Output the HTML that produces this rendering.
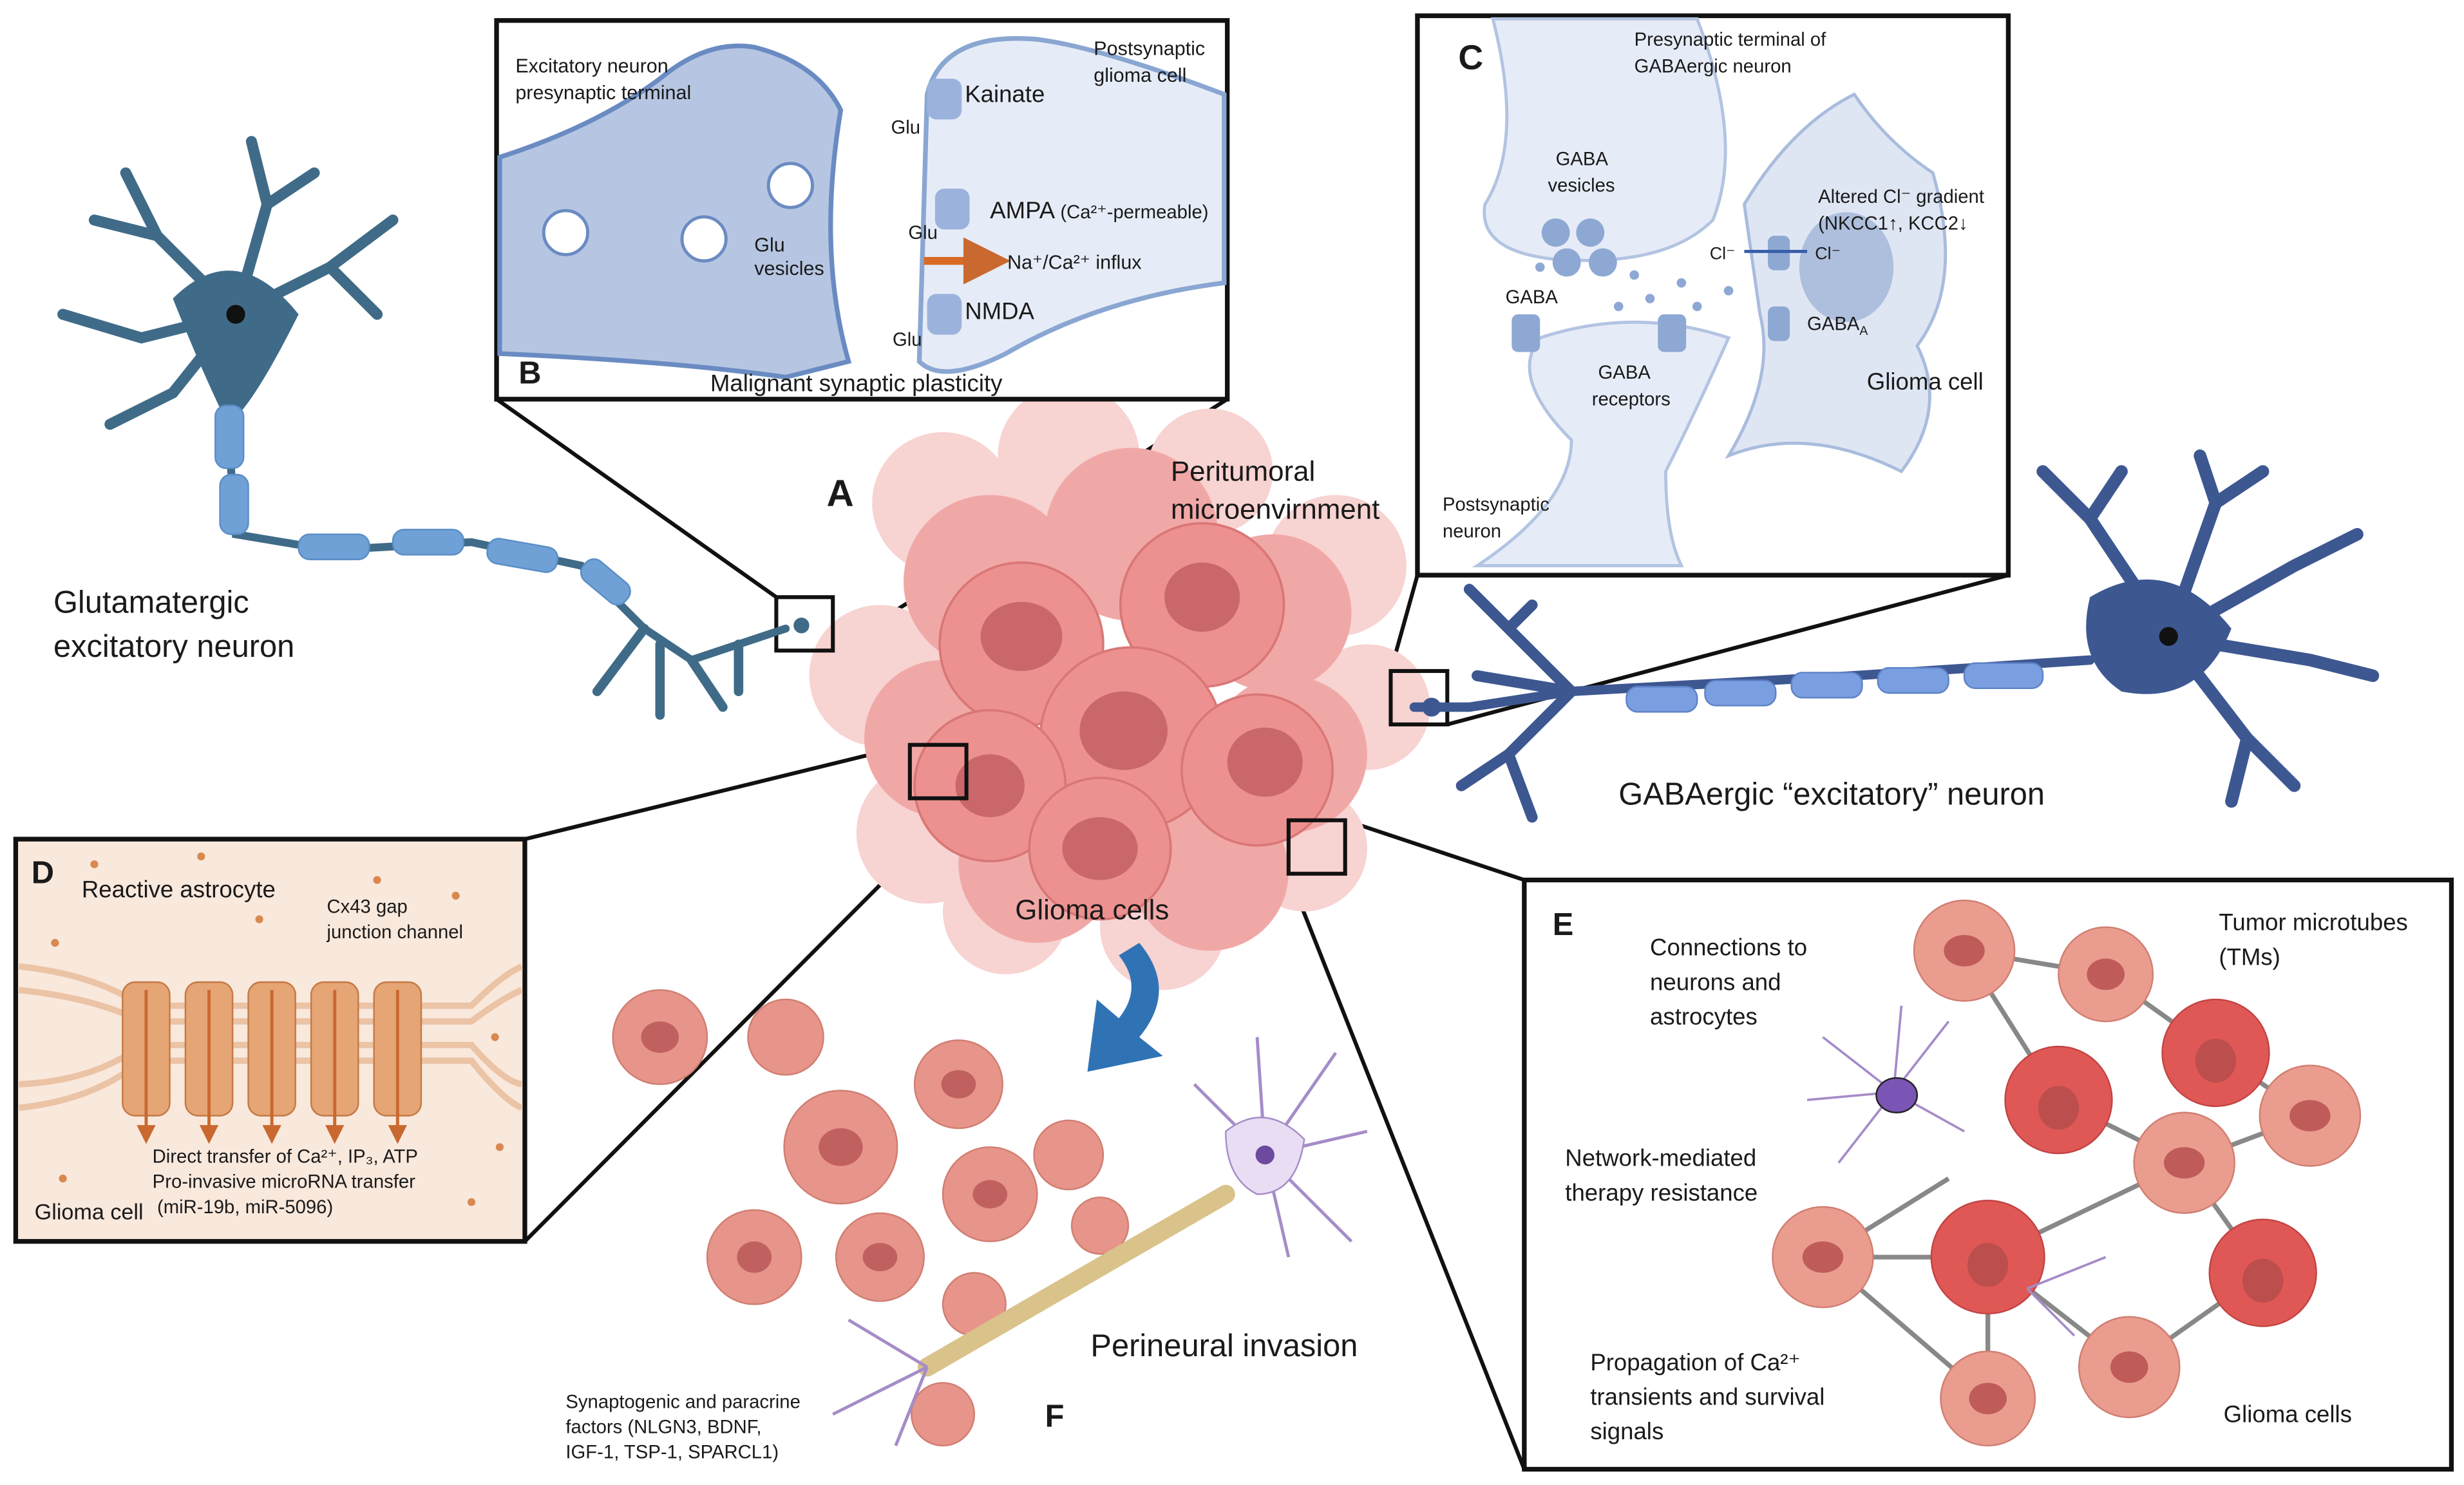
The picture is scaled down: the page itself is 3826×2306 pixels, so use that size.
<!DOCTYPE html>
<html><head><meta charset="utf-8">
<style>
html,body{margin:0;padding:0;background:#fff;}
svg{display:block;}
text{font-family:"Liberation Sans",sans-serif;fill:#1a1a1a;}
</style></head>
<body>
<svg width="3826" height="2306" viewBox="0 0 1568 945" xmlns="http://www.w3.org/2000/svg">
<defs>
<marker id="ar" markerWidth="6" markerHeight="6" refX="3" refY="3" orient="auto"><path d="M0,0L6,3L0,6z" fill="#c9682f"/></marker>
</defs>

<!-- connector lines -->
<g stroke="#111" stroke-width="2.5" fill="none">
<line x1="316" y1="254" x2="494" y2="380"/>
<line x1="781" y1="254" x2="530" y2="414"/>
<line x1="902" y1="366" x2="885" y2="427"/>
<line x1="1278" y1="366" x2="921" y2="461"/>
<line x1="334" y1="534" x2="579" y2="474"/>
<line x1="334" y1="790" x2="615" y2="508"/>
<line x1="856" y1="522" x2="970" y2="560"/>
<line x1="820" y1="556" x2="970" y2="935"/>
</g>

<!-- tumor -->
<g fill="#f7d3d1">
<circle cx="600" cy="320" r="45"/><circle cx="680" cy="290" r="45"/><circle cx="770" cy="300" r="40"/><circle cx="850" cy="360" r="45"/><circle cx="870" cy="450" r="40"/><circle cx="560" cy="430" r="45"/><circle cx="590" cy="530" r="45"/><circle cx="640" cy="580" r="40"/><circle cx="740" cy="590" r="40"/><circle cx="830" cy="540" r="40"/>
</g>
<g fill="#f0a8a6">
<circle cx="630" cy="370" r="55"/><circle cx="720" cy="340" r="55"/><circle cx="810" cy="390" r="50"/><circle cx="600" cy="470" r="50"/><circle cx="820" cy="480" r="50"/><circle cx="660" cy="550" r="50"/><circle cx="770" cy="555" r="50"/>
</g>
<g fill="#ec918f" stroke="#d97776" stroke-width="1.5">
<circle cx="650" cy="410" r="52"/><circle cx="765" cy="385" r="52"/><circle cx="720" cy="470" r="58"/><circle cx="630" cy="500" r="48"/><circle cx="800" cy="490" r="48"/><circle cx="700" cy="540" r="45"/>
</g>
<g fill="#c9676a">
<ellipse cx="650" cy="405" rx="26" ry="22"/><ellipse cx="765" cy="380" rx="24" ry="22"/>
<ellipse cx="715" cy="465" rx="28" ry="25"/><ellipse cx="630" cy="500" rx="22" ry="20"/>
<ellipse cx="805" cy="485" rx="24" ry="22"/><ellipse cx="700" cy="540" rx="24" ry="20"/>
</g>

<!-- small squares -->
<g stroke="#111" stroke-width="2.5" fill="none">
<rect x="494" y="380" width="36" height="34"/>
<rect x="885" y="427" width="36" height="34"/>
<rect x="579" y="474" width="36" height="34"/>
<rect x="820" y="522" width="36" height="34"/>
</g>

<!-- left neuron -->
<g stroke="#3f6b88" stroke-linecap="round" fill="none">
<path d="M150 200 L100 150 L60 140 M100 150 L80 110 M150 200 L90 215 L40 200 M150 200 L110 250 L70 270 M150 200 L170 130 L160 90 M170 130 L200 110 M150 200 L210 170 L250 140 M210 170 L240 200" stroke-width="7"/>
<path d="M150 200 L145 270 L150 340 L210 350 L300 345 L370 360 L410 400 L440 420 L500 400" stroke-width="5"/>
<path d="M410 400 L380 440 M420 410 L420 455 M440 420 L460 450 M470 410 L470 440" stroke-width="6"/>
</g>
<path d="M110 190 Q150 150 190 200 Q160 260 145 270 Q130 240 110 190z" fill="#3f6b88"/>
<circle cx="150" cy="200" r="6" fill="#111"/>
<g fill="#6fa0d6" stroke="#5b8ec6" stroke-width="1">
<rect x="137" y="258" width="18" height="40" rx="7"/><rect x="140" y="302" width="18" height="38" rx="7"/>
<rect x="190" y="340" width="45" height="16" rx="7"/><rect x="250" y="337" width="45" height="16" rx="7"/>
<rect x="310" y="345" width="45" height="16" rx="7" transform="rotate(10 330 353)"/><rect x="368" y="362" width="35" height="16" rx="7" transform="rotate(40 385 370)"/>
</g>
<circle cx="510" cy="398" r="5" fill="#3f6b88"/>

<!-- right neuron -->
<g stroke="#3d5791" stroke-linecap="round" fill="none">
<path d="M1380 405 L1330 330 L1300 300 M1330 330 L1350 300 M1380 405 L1410 320 L1400 290 M1410 320 L1440 300 M1380 405 L1460 360 L1500 340 M1380 405 L1470 420 L1510 430 M1380 405 L1430 470 L1460 500 M1430 470 L1420 510" stroke-width="8"/>
<path d="M1330 420 L1180 430 L1000 440 L935 450 L900 450" stroke-width="6"/>
<path d="M1000 440 L960 400 L935 375 M960 400 L975 385 M1000 440 L960 480 L930 500 M960 480 L975 520 M1000 440 L940 430" stroke-width="7"/>
</g>
<path d="M1330 380 Q1380 350 1420 400 Q1400 450 1350 440 Q1320 420 1330 380z" fill="#3d5791"/>
<circle cx="1380" cy="405" r="6" fill="#111"/>
<g fill="#7a9fe0" stroke="#5e82c8" stroke-width="1">
<rect x="1035" y="437" width="45" height="16" rx="7"/><rect x="1085" y="433" width="45" height="16" rx="7"/>
<rect x="1140" y="428" width="45" height="16" rx="7"/><rect x="1195" y="425" width="45" height="16" rx="7"/><rect x="1250" y="422" width="50" height="16" rx="7"/>
</g>
<circle cx="911" cy="450" r="6" fill="#3d5791"/>

<!-- Box B -->
<rect x="316" y="13" width="465" height="241" fill="#fff" stroke="#111" stroke-width="3"/>
<path d="M318 100 Q380 80 420 50 Q450 25 480 30 Q520 40 535 70 Q520 160 540 230 L500 240 Q430 230 318 225z" fill="#b6c6e2" stroke="#6a8bc2" stroke-width="3"/>
<path d="M779 60 Q700 30 660 25 Q600 20 590 60 L585 230 Q600 245 640 225 Q700 190 779 180z" fill="#e6ecf7" stroke="#8aa6d2" stroke-width="3"/>
<g fill="#fff" stroke="#6a8bc2" stroke-width="2"><circle cx="360" cy="148" r="14"/><circle cx="448" cy="152" r="14"/><circle cx="503" cy="118" r="14"/></g>
<g fill="#9bb3dc"><rect x="590" y="50" width="22" height="26" rx="6"/><rect x="595" y="120" width="22" height="26" rx="6"/><rect x="590" y="187" width="22" height="26" rx="6"/></g>
<line x1="588" y1="166" x2="628" y2="166" stroke="#d96b26" stroke-width="5" marker-end="url(#ar)"/>
<text x="328" y="46" font-size="12.5">Excitatory neuron</text>
<text x="328" y="63" font-size="12.5">presynaptic terminal</text>
<text x="696" y="35" font-size="12.5">Postsynaptic</text>
<text x="696" y="52" font-size="12.5">glioma cell</text>
<text x="614" y="65" font-size="15">Kainate</text>
<text x="567" y="85" font-size="12">Glu</text>
<text x="630" y="139" font-size="15">AMPA <tspan font-size="12">(Ca²⁺-permeable)</tspan></text>
<text x="578" y="152" font-size="12">Glu</text>
<text x="641" y="171" font-size="12.5">Na⁺/Ca²⁺ influx</text>
<text x="614" y="203" font-size="15">NMDA</text>
<text x="568" y="220" font-size="12">Glu</text>
<text x="480" y="160" font-size="12.5">Glu</text>
<text x="480" y="175" font-size="12.5">vesicles</text>
<text x="330" y="244" font-size="20" font-weight="bold">B</text>
<text x="452" y="249" font-size="15">Malignant synaptic plasticity</text>

<!-- Box C -->
<rect x="902" y="10" width="376" height="356" fill="#fff" stroke="#111" stroke-width="3"/>
<path d="M950 12 Q970 90 945 130 Q940 160 990 165 Q1060 170 1090 140 Q1110 90 1080 12z" fill="#e6ecf7" stroke="#b3c4e2" stroke-width="2"/>
<path d="M940 360 Q1000 320 1000 280 Q960 240 980 215 Q1040 195 1100 215 Q1080 260 1060 300 Q1060 340 1070 360z" fill="#e6ecf7" stroke="#b3c4e2" stroke-width="2"/>
<path d="M1110 130 Q1140 80 1180 60 Q1200 90 1230 110 Q1250 180 1220 220 Q1240 260 1210 300 Q1150 270 1100 290 Q1130 240 1120 200z" fill="#dfe6f3" stroke="#a9bcdd" stroke-width="2"/>
<ellipse cx="1175" cy="170" rx="30" ry="35" fill="#aebfdd"/>
<g fill="#8ea8d4"><circle cx="990" cy="148" r="9"/><circle cx="1012" cy="148" r="9"/><circle cx="997" cy="167" r="9"/><circle cx="1020" cy="167" r="9"/>
<circle cx="980" cy="170" r="3"/><circle cx="1040" cy="175" r="3"/><circle cx="1050" cy="190" r="3"/><circle cx="1070" cy="180" r="3"/><circle cx="1030" cy="195" r="3"/><circle cx="1080" cy="195" r="3"/><circle cx="1060" cy="205" r="3"/><circle cx="1100" cy="185" r="3"/>
<rect x="962" y="200" width="18" height="24" rx="4"/><rect x="1055" y="200" width="18" height="24" rx="4"/><rect x="1125" y="150" width="14" height="22" rx="4"/><rect x="1125" y="195" width="14" height="22" rx="4"/></g>
<line x1="1150" y1="160" x2="1110" y2="160" stroke="#3a5ea8" stroke-width="2"/>
<text x="928" y="44" font-size="22" font-weight="bold">C</text>
<text x="1040" y="29" font-size="12">Presynaptic terminal of</text>
<text x="1040" y="46" font-size="12">GABAergic neuron</text>
<text x="990" y="105" font-size="12">GABA</text>
<text x="985" y="122" font-size="12">vesicles</text>
<text x="1157" y="129" font-size="12">Altered Cl⁻ gradient</text>
<text x="1157" y="146" font-size="12">(NKCC1↑, KCC2↓</text>
<text x="1088" y="165" font-size="11">Cl⁻</text><text x="1155" y="165" font-size="11">Cl⁻</text>
<text x="958" y="193" font-size="12">GABA</text>
<text x="1150" y="210" font-size="12">GABA<tspan font-size="8" dy="3">A</tspan></text>
<text x="1017" y="241" font-size="12">GABA</text>
<text x="1013" y="258" font-size="12">receptors</text>
<text x="1188" y="248" font-size="15">Glioma cell</text>
<text x="918" y="325" font-size="12">Postsynaptic</text>
<text x="918" y="342" font-size="12">neuron</text>

<!-- Box D -->
<rect x="10" y="534" width="324" height="256" fill="#f9e8dc" stroke="#111" stroke-width="3"/>
<g stroke="#ebc3a5" stroke-width="4" fill="none">
<path d="M12 615 Q60 620 90 640 L300 640 Q320 620 332 615"/><path d="M12 630 Q60 635 90 650 L300 650 Q320 635 332 630"/>
<path d="M12 705 Q60 700 90 675 L300 675 Q320 700 332 705"/><path d="M12 690 Q60 688 90 665 L300 665 Q320 688 332 690"/>
</g>
<g fill="#e5a575" stroke="#c47a46" stroke-width="1">
<rect x="78" y="625" width="30" height="85" rx="8"/><rect x="118" y="625" width="30" height="85" rx="8"/><rect x="158" y="625" width="30" height="85" rx="8"/><rect x="198" y="625" width="30" height="85" rx="8"/><rect x="238" y="625" width="30" height="85" rx="8"/>
</g>
<g stroke="#c9682f" stroke-width="2"><line x1="93" y1="630" x2="93" y2="722" marker-end="url(#ar)"/><line x1="133" y1="630" x2="133" y2="722" marker-end="url(#ar)"/><line x1="173" y1="630" x2="173" y2="722" marker-end="url(#ar)"/><line x1="213" y1="630" x2="213" y2="722" marker-end="url(#ar)"/><line x1="253" y1="630" x2="253" y2="722" marker-end="url(#ar)"/></g>
<g fill="#d9894f"><circle cx="60" cy="550" r="2.5"/><circle cx="128" cy="545" r="2.5"/><circle cx="290" cy="570" r="2.5"/><circle cx="35" cy="600" r="2.5"/><circle cx="240" cy="560" r="2.5"/><circle cx="315" cy="660" r="2.5"/><circle cx="40" cy="750" r="2.5"/><circle cx="300" cy="765" r="2.5"/><circle cx="318" cy="730" r="2.5"/><circle cx="165" cy="585" r="2.5"/></g>
<text x="20" y="562" font-size="20" font-weight="bold">D</text>
<text x="52" y="571" font-size="15">Reactive astrocyte</text>
<text x="208" y="581" font-size="12">Cx43 gap</text>
<text x="208" y="597" font-size="12">junction channel</text>
<text x="97" y="740" font-size="12">Direct transfer of Ca²⁺, IP₃, ATP</text>
<text x="97" y="756" font-size="12">Pro-invasive microRNA transfer</text>
<text x="100" y="772" font-size="12">(miR-19b, miR-5096)</text>
<text x="22" y="776" font-size="14">Glioma cell</text>

<!-- Box E -->
<rect x="970" y="560" width="590" height="375" fill="#fff" stroke="#111" stroke-width="3"/>
<g stroke="#888" stroke-width="3">
<line x1="1250" y1="605" x2="1340" y2="620"/><line x1="1340" y1="620" x2="1410" y2="670"/><line x1="1250" y1="605" x2="1310" y2="700"/><line x1="1310" y1="700" x2="1390" y2="740"/><line x1="1390" y1="740" x2="1470" y2="710"/><line x1="1390" y1="740" x2="1440" y2="810"/><line x1="1390" y1="740" x2="1265" y2="800"/><line x1="1160" y1="800" x2="1265" y2="800"/><line x1="1265" y1="800" x2="1355" y2="870"/><line x1="1265" y1="800" x2="1265" y2="890"/><line x1="1160" y1="800" x2="1265" y2="890"/><line x1="1355" y1="870" x2="1440" y2="810"/><line x1="1160" y1="800" x2="1240" y2="750"/><line x1="1410" y1="670" x2="1470" y2="710"/>
</g>
<g fill="#ea9d8f" stroke="#d07e72" stroke-width="1">
<circle cx="1250" cy="605" r="32"/><circle cx="1340" cy="620" r="30"/><circle cx="1390" cy="740" r="32"/><circle cx="1470" cy="710" r="32"/><circle cx="1160" cy="800" r="32"/><circle cx="1265" cy="890" r="30"/><circle cx="1355" cy="870" r="32"/>
</g>
<g fill="#e05855" stroke="#c24444" stroke-width="1"><circle cx="1310" cy="700" r="34"/><circle cx="1410" cy="670" r="34"/><circle cx="1265" cy="800" r="36"/><circle cx="1440" cy="810" r="34"/></g>
<g fill="#b44c4c" opacity="0.8"><ellipse cx="1250" cy="605" rx="13" ry="10"/><ellipse cx="1340" cy="620" rx="12" ry="10"/><ellipse cx="1390" cy="740" rx="13" ry="10"/><ellipse cx="1470" cy="710" rx="13" ry="10"/><ellipse cx="1160" cy="800" rx="13" ry="10"/><ellipse cx="1265" cy="890" rx="12" ry="10"/><ellipse cx="1355" cy="870" rx="12" ry="10"/><ellipse cx="1310" cy="705" rx="13" ry="14"/><ellipse cx="1410" cy="675" rx="13" ry="14"/><ellipse cx="1265" cy="805" rx="13" ry="14"/><ellipse cx="1440" cy="815" rx="13" ry="14"/></g>
<g stroke="#a58cc8" stroke-width="1.5" fill="none"><path d="M1205 695 L1160 660 M1205 695 L1150 700 M1205 695 L1170 740 M1205 695 L1210 640 M1205 695 L1240 650 M1205 695 L1250 720 M1290 820 L1320 850 M1290 820 L1340 800"/></g>
<ellipse cx="1207" cy="697" rx="13" ry="11" fill="#7a55b5" stroke="#222"/>
<text x="988" y="595" font-size="20" font-weight="bold">E</text>
<text x="1050" y="608" font-size="15">Connections to</text>
<text x="1050" y="630" font-size="15">neurons and</text>
<text x="1050" y="652" font-size="15">astrocytes</text>
<text x="1412" y="592" font-size="15">Tumor microtubes</text>
<text x="1412" y="614" font-size="15">(TMs)</text>
<text x="996" y="742" font-size="15">Network-mediated</text>
<text x="996" y="764" font-size="15">therapy resistance</text>
<text x="1012" y="872" font-size="15">Propagation of Ca²⁺</text>
<text x="1012" y="894" font-size="15">transients and survival</text>
<text x="1012" y="916" font-size="15">signals</text>
<text x="1415" y="905" font-size="15">Glioma cells</text>

<!-- F region -->
<g fill="#e7948a" stroke="#d07e72" stroke-width="1">
<circle cx="420" cy="660" r="30"/><circle cx="500" cy="660" r="24"/><circle cx="535" cy="730" r="36"/><circle cx="610" cy="690" r="28"/><circle cx="480" cy="800" r="30"/><circle cx="560" cy="800" r="28"/><circle cx="630" cy="760" r="30"/><circle cx="680" cy="735" r="22"/><circle cx="620" cy="830" r="20"/><circle cx="600" cy="900" r="20"/><circle cx="700" cy="780" r="18"/>
</g>
<g fill="#c06160"><ellipse cx="420" cy="660" rx="12" ry="10"/><ellipse cx="535" cy="730" rx="14" ry="12"/><ellipse cx="610" cy="690" rx="11" ry="9"/><ellipse cx="480" cy="800" rx="11" ry="10"/><ellipse cx="560" cy="800" rx="11" ry="9"/><ellipse cx="630" cy="760" rx="11" ry="9"/></g>
<path d="M590 870 L780 760" stroke="#d9c38a" stroke-width="12" stroke-linecap="round"/>
<g stroke="#a58cc8" stroke-width="2" fill="none"><path d="M805 735 L760 690 M805 735 L800 660 M805 735 L850 670 M805 735 L870 720 M805 735 L860 790 M805 735 L820 800 M590 870 L540 840 M590 870 L530 900 M590 870 L570 920"/></g>
<path d="M780 720 Q805 700 830 725 Q825 760 800 760 Q780 750 780 720z" fill="#e8ddf3" stroke="#a58cc8"/>
<circle cx="805" cy="735" r="6" fill="#6b4aa0"/>
<!-- curved arrow pointing down-left -->
<path d="M725 600 Q750 630 725 660 L740 672 L692 682 L698 636 L712 648 Q728 628 712 608z" fill="#2f73b5"/>
<text x="694" y="863" font-size="20">Perineural invasion</text>
<text x="665" y="908" font-size="20" font-weight="bold">F</text>
<text x="360" y="896" font-size="12">Synaptogenic and paracrine</text>
<text x="360" y="912" font-size="12">factors (NLGN3, BDNF,</text>
<text x="360" y="928" font-size="12">IGF-1, TSP-1, SPARCL1)</text>

<!-- main labels -->
<text x="526" y="322" font-size="24" font-weight="bold">A</text>
<text x="745" y="306" font-size="18">Peritumoral</text>
<text x="745" y="330" font-size="18">microenvirnment</text>
<text x="646" y="585" font-size="18">Glioma cells</text>
<text x="34" y="390" font-size="20">Glutamatergic</text>
<text x="34" y="418" font-size="20">excitatory neuron</text>
<text x="1030" y="512" font-size="20">GABAergic “excitatory” neuron</text>
</svg>
</body></html>
